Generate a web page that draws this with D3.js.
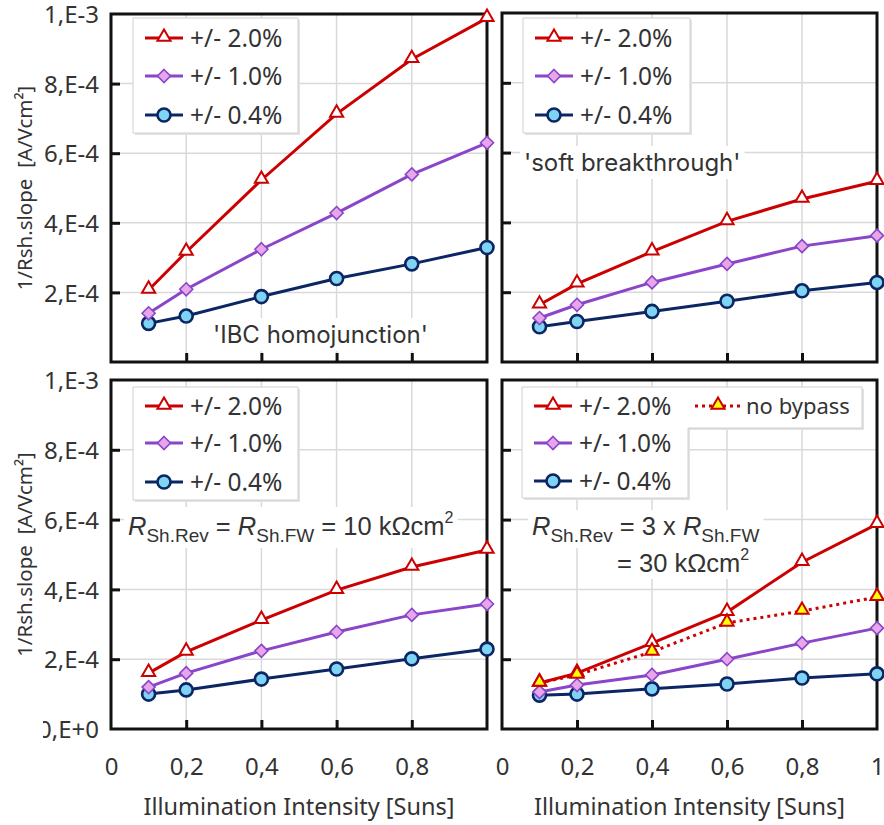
<!DOCTYPE html>
<html>
<head>
<meta charset="utf-8">
<script src="https://cdn.jsdelivr.net/npm/d3@7"></script>
<style>
  body { margin: 0; background: #fff; }
  svg { display: block; }
</style>
</head>
<body>
<div id="chart"></div>
<script>
// intensity values (suns)
var xValues = [0.1, 0.2, 0.4, 0.6, 0.8, 1.0];

// 'IBC homojunction'
var homoRed    = [2.07e-4, 3.16e-4, 5.23e-4, 7.13e-4, 8.70e-4, 9.88e-4];
var homoPurple = [1.40e-4, 2.09e-4, 3.24e-4, 4.28e-4, 5.39e-4, 6.30e-4];
var homoBlue   = [1.11e-4, 1.32e-4, 1.88e-4, 2.40e-4, 2.82e-4, 3.29e-4];

// 'soft breakthrough'
var softRed    = [1.64e-4, 2.24e-4, 3.16e-4, 4.03e-4, 4.67e-4, 5.18e-4];
var softPurple = [1.26e-4, 1.64e-4, 2.28e-4, 2.81e-4, 3.32e-4, 3.62e-4];
var softBlue   = [1.01e-4, 1.16e-4, 1.45e-4, 1.74e-4, 2.04e-4, 2.28e-4];

// Rsh.Rev = Rsh.FW
var eqRed    = [1.60e-4, 2.21e-4, 3.12e-4, 3.98e-4, 4.64e-4, 5.13e-4];
var eqPurple = [1.20e-4, 1.60e-4, 2.24e-4, 2.78e-4, 3.27e-4, 3.58e-4];
var eqBlue   = [1.00e-4, 1.12e-4, 1.43e-4, 1.72e-4, 2.01e-4, 2.29e-4];

// Rsh.Rev = 3 x Rsh.FW
var triRed      = [1.32e-4, 1.60e-4, 2.46e-4, 3.35e-4, 4.78e-4, 5.87e-4];
var triNoBypass = [1.32e-4, 1.55e-4, 2.21e-4, 3.04e-4, 3.38e-4, 3.78e-4];
var triPurple   = [1.06e-4, 1.26e-4, 1.55e-4, 2.00e-4, 2.46e-4, 2.89e-4];
var triBlue     = [0.97e-4, 1.00e-4, 1.15e-4, 1.29e-4, 1.46e-4, 1.58e-4];

var seriesNames = ["+/- 2.0%", "+/- 1.0%", "+/- 0.4%"];
var yTicks = [0, 2e-4, 4e-4, 6e-4, 8e-4, 1e-3];
var yTickLabels = ["0,E+0", "2,E-4", "4,E-4", "6,E-4", "8,E-4", "1,E-3"];
var xTicks = [0, 0.2, 0.4, 0.6, 0.8, 1];
var xTickLabels = ["0", "0,2", "0,4", "0,6", "0,8", "1"];

var RED = "#cc0000", PURPLE = "#8a45c8", NAVY = "#0c2664";
var TEXT = "#333333";
var tickFont = "'Noto Sans', 'Open Sans', sans-serif";
var quoteFont = "Inter, 'Noto Sans', sans-serif";
var noteFont = "'Liberation Sans', Arial, sans-serif";

var svg = d3.select("#chart").append("svg")
  .attr("width", 884)
  .attr("height", 825);

svg.append("defs").append("clipPath").attr("id", "labelClip")
  .append("rect").attr("x", 43).attr("y", 0).attr("width", 841).attr("height", 825);

var panels = [
  { x0: 111, x1: 487, y0: 14, y1: 362, yLabels: [1, 2, 3, 4, 5], xLabels: [],
    series: [homoRed, homoPurple, homoBlue],
    legend: { x: 133, y: 18, w: 165, h: 115, rows: [38, 76, 115] },
    note: "homo" },
  { x0: 502, x1: 877, y0: 13, y1: 362, yLabels: [], xLabels: [],
    series: [softRed, softPurple, softBlue],
    legend: { x: 523, y: 18, w: 167, h: 115, rows: [38, 76, 115] },
    note: "soft" },
  { x0: 111, x1: 487, y0: 380, y1: 729, yLabels: [0, 1, 2, 3, 4, 5], xLabels: [0, 1, 2, 3, 4],
    series: [eqRed, eqPurple, eqBlue],
    legend: { x: 133, y: 387, w: 165, h: 113, rows: [406, 443, 482] },
    note: "eq" },
  { x0: 502, x1: 877, y0: 380, y1: 729, yLabels: [], xLabels: [0, 1, 2, 3, 4, 5],
    series: [triRed, triPurple, triBlue], extra: triNoBypass,
    legend: { x: 522, y: 387, w: 166, h: 111, rows: [406, 443, 481], wide: 340, wideH: 41 },
    note: "tri" }
];

function marker(sel, kind, fill) {
  if (kind === 0) {
    sel.append("path")
      .attr("d", d3.symbol().type(d3.symbolTriangle).size(75))
      .attr("transform", "translate(0,-1)")
      .style("fill", fill || "#fff").style("stroke", RED).style("stroke-width", 2);
  } else if (kind === 1) {
    sel.append("path")
      .attr("d", "M0,-6.5L6.5,0L0,6.5L-6.5,0Z")
      .style("fill", "#e7a6ea").style("stroke", PURPLE).style("stroke-width", 1.6);
  } else {
    sel.append("circle").attr("r", 6.5)
      .style("fill", "#7fd4f4").style("stroke", NAVY).style("stroke-width", 2.6);
  }
}

var colors = [RED, PURPLE, NAVY];

function drawNote(layer, p) {
  var t;
  if (p.note === "homo" || p.note === "soft") {
    t = layer.append("text")
      .attr("x", p.note === "homo" ? 213 : 524)
      .attr("y", p.note === "homo" ? 343 : 171)
      .text(p.note === "homo" ? "'IBC homojunction'" : "'soft breakthrough'")
      .style("font-family", quoteFont).style("font-size", "24px").style("fill", TEXT);
  } else if (p.note === "eq") {
    t = layer.append("text").attr("x", 128).attr("y", 535);
    t.append("tspan").style("font-style", "italic").text("R");
    t.append("tspan").style("font-size", "19px").attr("dy", 7).text("Sh.Rev");
    t.append("tspan").attr("dy", -7).text(" = ");
    t.append("tspan").style("font-style", "italic").text("R");
    t.append("tspan").style("font-size", "19px").attr("dy", 7).text("Sh.FW");
    t.append("tspan").attr("dy", -7).text(" = 10 k\u03A9cm");
    t.append("tspan").style("font-size", "16px").attr("dy", -12).text("2");
  } else {
    t = layer.append("text").attr("x", 532).attr("y", 535);
    t.append("tspan").style("font-style", "italic").text("R");
    t.append("tspan").style("font-size", "19px").attr("dy", 7).text("Sh.Rev");
    t.append("tspan").attr("dy", -7).text(" = 3 x ");
    t.append("tspan").style("font-style", "italic").text("R");
    t.append("tspan").style("font-size", "19px").attr("dy", 7).text("Sh.FW");
    var t2 = layer.append("text").attr("x", 617).attr("y", 572);
    t2.append("tspan").text("= 30 k\u03A9cm");
    t2.append("tspan").style("font-size", "16px").attr("dy", -12).text("2");
  }
  if (p.note === "eq" || p.note === "tri") {
    layer.selectAll("text")
      .style("font-family", noteFont).style("font-size", "25.5px").style("fill", TEXT);
  }
  // white backing behind the annotation
  layer.selectAll("text").each(function() {
    var b = this.getBBox();
    layer.insert("rect", ":first-child")
      .attr("x", b.x - 4).attr("y", b.y - 2).attr("width", b.width + 8).attr("height", b.height + 4)
      .style("fill", "#fff");
  });
}

panels.forEach(function(p) {
  var x = d3.scaleLinear().domain([0, 1]).range([p.x0, p.x1]);
  var y = d3.scaleLinear().domain([0, 1e-3]).range([p.y1, p.y0]);
  var g = svg.append("g");

  // gridlines
  g.append("g").selectAll("line").data(xTicks.slice(1, 5)).join("line")
    .attr("x1", x).attr("x2", x).attr("y1", p.y0).attr("y2", p.y1)
    .style("stroke", "#d9d9d9").style("stroke-width", 1.5);
  g.append("g").selectAll("line").data(yTicks.slice(1, 5)).join("line")
    .attr("x1", p.x0).attr("x2", p.x1).attr("y1", y).attr("y2", y)
    .style("stroke", "#d9d9d9").style("stroke-width", 1.5);

  drawNote(g.append("g"), p);

  // inward tick marks
  g.append("g").attr("transform", "translate(" + p.x0 + ",0)")
    .call(d3.axisRight(y).tickValues(yTicks.slice(1, 5)).tickSize(9).tickFormat(""))
    .call(function(a) { a.select(".domain").remove(); })
    .selectAll("line").style("stroke", "#111").style("stroke-width", 3);
  g.append("g").attr("transform", "translate(0," + p.y1 + ")")
    .call(d3.axisTop(x).tickValues(xTicks.slice(1, 5)).tickSize(9).tickFormat(""))
    .call(function(a) { a.select(".domain").remove(); })
    .selectAll("line").style("stroke", "#111").style("stroke-width", 3);

  // frame
  g.append("rect")
    .attr("x", p.x0).attr("y", p.y0).attr("width", p.x1 - p.x0).attr("height", p.y1 - p.y0)
    .style("fill", "none").style("stroke", "#111").style("stroke-width", 3);

  var line = d3.line().x(function(d, i) { return x(xValues[i]); }).y(function(d) { return y(d); });

  // no-bypass dotted series
  if (p.extra) {
    g.append("path").datum(p.extra).attr("d", line)
      .style("fill", "none").style("stroke", RED).style("stroke-width", 3)
      .style("stroke-dasharray", "3,4");
  }

  // series drawn bottom-up so red sits on top
  [2, 1, 0].forEach(function(k) {
    var s = p.series[k];
    g.append("path").datum(s).attr("d", line)
      .style("fill", "none").style("stroke", colors[k]).style("stroke-width", 3);
    g.append("g").selectAll("g").data(s).join("g")
      .attr("transform", function(d, i) { return "translate(" + x(xValues[i]) + "," + y(d) + ")"; })
      .each(function() { marker(d3.select(this), k); });
  });
  if (p.extra) {
    g.append("g").selectAll("g").data(p.extra).join("g")
      .attr("transform", function(d, i) { return "translate(" + x(xValues[i]) + "," + y(d) + ")"; })
      .each(function() { marker(d3.select(this), 0, "#ffff00"); });
  }

  // legend
  var L = p.legend;
  var lg = g.append("g");
  var shape;
  if (L.wide) {
    shape = "M" + L.x + "," + L.y + "H" + (L.x + L.wide) + "V" + (L.y + L.wideH) +
      "H" + (L.x + L.w) + "V" + (L.y + L.h) + "H" + L.x + "Z";
  } else {
    shape = "M" + L.x + "," + L.y + "h" + L.w + "v" + L.h + "h" + (-L.w) + "Z";
  }
  lg.append("path").attr("d", shape).attr("transform", "translate(2,2)")
    .style("fill", "#e2e2e2");
  lg.append("path").attr("d", shape)
    .style("fill", "#fff").style("stroke", "#d0d0d0").style("stroke-width", 1);
  seriesNames.forEach(function(name, k) {
    var ry = L.rows[k];
    lg.append("line").attr("x1", L.x + 12).attr("x2", L.x + 50).attr("y1", ry).attr("y2", ry)
      .style("stroke", colors[k]).style("stroke-width", 3);
    marker(lg.append("g").attr("transform", "translate(" + (L.x + 31) + "," + ry + ")"), k);
    lg.append("text").attr("x", L.x + 57).attr("y", ry).attr("dy", "0.36em")
      .style("font-family", tickFont).style("font-size", "24.5px").style("fill", TEXT)
      .text(name);
  });
  if (L.wide) {
    var ry0 = L.rows[0];
    lg.append("line").attr("x1", L.x + 173).attr("x2", L.x + 218).attr("y1", ry0).attr("y2", ry0)
      .style("stroke", RED).style("stroke-width", 3).style("stroke-dasharray", "3,4");
    marker(lg.append("g").attr("transform", "translate(" + (L.x + 196) + "," + ry0 + ")"), 0, "#ffff00");
    lg.append("text").attr("x", L.x + 224).attr("y", ry0).attr("dy", "0.36em")
      .style("font-family", tickFont).style("font-size", "22px").style("fill", TEXT)
      .text("no bypass");
  }

  // tick labels (left edge clipped like the original figure)
  if (p.yLabels.length) {
    svg.append("g").attr("clip-path", "url(#labelClip)")
      .append("g")
      .attr("transform", "translate(" + (p.x0 - 9) + ",1)")
      .call(d3.axisLeft(y).tickValues(p.yLabels.map(function(i) { return yTicks[i]; }))
        .tickSize(0).tickFormat(function(d) { return yTickLabels[yTicks.indexOf(d)]; }))
      .call(function(a) { a.select(".domain").remove(); })
      .selectAll("text")
      .style("font-family", tickFont).style("font-size", "24px").style("fill", TEXT);
    svg.append("text")
      .attr("transform", "translate(25," + ((p.y0 + p.y1) / 2) + ") rotate(-90)")
      .attr("text-anchor", "middle").attr("dy", "0.35em")
      .style("font-family", tickFont).style("font-size", "20.5px").style("fill", TEXT)
      .text("1/Rsh.slope\u00A0\u00A0[A/Vcm\u00B2]");
  }
  if (p.xLabels.length) {
    svg.append("g").attr("transform", "translate(0," + (p.y1 + 26) + ")")
      .call(d3.axisBottom(x).tickValues(p.xLabels.map(function(i) { return xTicks[i]; }))
        .tickSize(0).tickFormat(function(d) { return xTickLabels[xTicks.indexOf(d)]; }))
      .call(function(a) { a.select(".domain").remove(); })
      .selectAll("text")
      .style("font-family", tickFont).style("font-size", "24px").style("fill", TEXT);
    svg.append("text")
      .attr("x", (p.x0 + p.x1) / 2).attr("y", 807).attr("dy", "0.35em")
      .attr("text-anchor", "middle")
      .style("font-family", tickFont).style("font-size", "23.5px").style("fill", TEXT)
      .text("Illumination Intensity [Suns]");
  }
});
</script>
</body>
</html>
